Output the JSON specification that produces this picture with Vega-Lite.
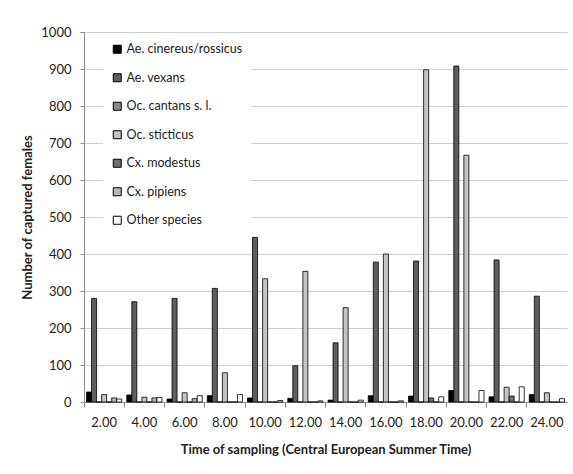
{
  "$schema": "https://vega.github.io/schema/vega-lite/v6.json",
  "width": 483,
  "height": 370,
  "autosize": {"type": "none"},
  "padding": {"left": 84, "top": 32, "right": 6, "bottom": 72},
  "background": "white",
  "config": {"font": "Lato", "view": {"stroke": null}},
  "data": {
    "values": [
      {"time": "2.00", "species": "Ae. cinereus/rossicus", "count": 27},
      {"time": "2.00", "species": "Ae. vexans", "count": 280},
      {"time": "2.00", "species": "Oc. cantans s. l.", "count": 0},
      {"time": "2.00", "species": "Oc. sticticus", "count": 20},
      {"time": "2.00", "species": "Cx. modestus", "count": 0},
      {"time": "2.00", "species": "Cx. pipiens", "count": 11},
      {"time": "2.00", "species": "Other species", "count": 8},
      {"time": "4.00", "species": "Ae. cinereus/rossicus", "count": 19},
      {"time": "4.00", "species": "Ae. vexans", "count": 271},
      {"time": "4.00", "species": "Oc. cantans s. l.", "count": 0},
      {"time": "4.00", "species": "Oc. sticticus", "count": 13},
      {"time": "4.00", "species": "Cx. modestus", "count": 0},
      {"time": "4.00", "species": "Cx. pipiens", "count": 11},
      {"time": "4.00", "species": "Other species", "count": 12},
      {"time": "6.00", "species": "Ae. cinereus/rossicus", "count": 8},
      {"time": "6.00", "species": "Ae. vexans", "count": 280},
      {"time": "6.00", "species": "Oc. cantans s. l.", "count": 0},
      {"time": "6.00", "species": "Oc. sticticus", "count": 25},
      {"time": "6.00", "species": "Cx. modestus", "count": 0},
      {"time": "6.00", "species": "Cx. pipiens", "count": 9},
      {"time": "6.00", "species": "Other species", "count": 17},
      {"time": "8.00", "species": "Ae. cinereus/rossicus", "count": 17},
      {"time": "8.00", "species": "Ae. vexans", "count": 307},
      {"time": "8.00", "species": "Oc. cantans s. l.", "count": 0},
      {"time": "8.00", "species": "Oc. sticticus", "count": 79},
      {"time": "8.00", "species": "Cx. modestus", "count": 0},
      {"time": "8.00", "species": "Cx. pipiens", "count": 0},
      {"time": "8.00", "species": "Other species", "count": 20},
      {"time": "10.00", "species": "Ae. cinereus/rossicus", "count": 11},
      {"time": "10.00", "species": "Ae. vexans", "count": 445},
      {"time": "10.00", "species": "Oc. cantans s. l.", "count": 0},
      {"time": "10.00", "species": "Oc. sticticus", "count": 333},
      {"time": "10.00", "species": "Cx. modestus", "count": 0},
      {"time": "10.00", "species": "Cx. pipiens", "count": 0},
      {"time": "10.00", "species": "Other species", "count": 4},
      {"time": "12.00", "species": "Ae. cinereus/rossicus", "count": 10},
      {"time": "12.00", "species": "Ae. vexans", "count": 98},
      {"time": "12.00", "species": "Oc. cantans s. l.", "count": 0},
      {"time": "12.00", "species": "Oc. sticticus", "count": 353},
      {"time": "12.00", "species": "Cx. modestus", "count": 0},
      {"time": "12.00", "species": "Cx. pipiens", "count": 0},
      {"time": "12.00", "species": "Other species", "count": 3},
      {"time": "14.00", "species": "Ae. cinereus/rossicus", "count": 5},
      {"time": "14.00", "species": "Ae. vexans", "count": 160},
      {"time": "14.00", "species": "Oc. cantans s. l.", "count": 0},
      {"time": "14.00", "species": "Oc. sticticus", "count": 255},
      {"time": "14.00", "species": "Cx. modestus", "count": 0},
      {"time": "14.00", "species": "Cx. pipiens", "count": 0},
      {"time": "14.00", "species": "Other species", "count": 5},
      {"time": "16.00", "species": "Ae. cinereus/rossicus", "count": 17},
      {"time": "16.00", "species": "Ae. vexans", "count": 378},
      {"time": "16.00", "species": "Oc. cantans s. l.", "count": 0},
      {"time": "16.00", "species": "Oc. sticticus", "count": 400},
      {"time": "16.00", "species": "Cx. modestus", "count": 0},
      {"time": "16.00", "species": "Cx. pipiens", "count": 0},
      {"time": "16.00", "species": "Other species", "count": 3},
      {"time": "18.00", "species": "Ae. cinereus/rossicus", "count": 16},
      {"time": "18.00", "species": "Ae. vexans", "count": 381},
      {"time": "18.00", "species": "Oc. cantans s. l.", "count": 0},
      {"time": "18.00", "species": "Oc. sticticus", "count": 898},
      {"time": "18.00", "species": "Cx. modestus", "count": 11},
      {"time": "18.00", "species": "Cx. pipiens", "count": 0},
      {"time": "18.00", "species": "Other species", "count": 14},
      {"time": "20.00", "species": "Ae. cinereus/rossicus", "count": 31},
      {"time": "20.00", "species": "Ae. vexans", "count": 908},
      {"time": "20.00", "species": "Oc. cantans s. l.", "count": 0},
      {"time": "20.00", "species": "Oc. sticticus", "count": 667},
      {"time": "20.00", "species": "Cx. modestus", "count": 0},
      {"time": "20.00", "species": "Cx. pipiens", "count": 0},
      {"time": "20.00", "species": "Other species", "count": 31},
      {"time": "22.00", "species": "Ae. cinereus/rossicus", "count": 14},
      {"time": "22.00", "species": "Ae. vexans", "count": 384},
      {"time": "22.00", "species": "Oc. cantans s. l.", "count": 0},
      {"time": "22.00", "species": "Oc. sticticus", "count": 40},
      {"time": "22.00", "species": "Cx. modestus", "count": 16},
      {"time": "22.00", "species": "Cx. pipiens", "count": 0},
      {"time": "22.00", "species": "Other species", "count": 41},
      {"time": "24.00", "species": "Ae. cinereus/rossicus", "count": 20},
      {"time": "24.00", "species": "Ae. vexans", "count": 286},
      {"time": "24.00", "species": "Oc. cantans s. l.", "count": 0},
      {"time": "24.00", "species": "Oc. sticticus", "count": 25},
      {"time": "24.00", "species": "Cx. modestus", "count": 0},
      {"time": "24.00", "species": "Cx. pipiens", "count": 0},
      {"time": "24.00", "species": "Other species", "count": 9}
    ]
  },
  "mark": {"type": "bar", "stroke": "black", "strokeWidth": 0.8},
  "encoding": {
    "x": {
      "field": "time",
      "type": "ordinal",
      "sort": ["2.00", "4.00", "6.00", "8.00", "10.00", "12.00", "14.00", "16.00", "18.00", "20.00", "22.00", "24.00"],
      "scale": {"paddingInner": 0, "paddingOuter": 0},
      "axis": {
        "title": "Time of sampling (Central European Summer Time)",
        "titleFontSize": 13,
        "titleFontWeight": "bold",
        "titleColor": "#222",
        "titlePadding": 14,
        "labelAngle": 0,
        "labelFontSize": 13,
        "labelColor": "#222",
        "labelPadding": 9,
        "bandPosition": 0,
        "tickSize": 5,
        "tickColor": "#8c8c8c",
        "domainColor": "#8c8c8c",
        "grid": false
      }
    },
    "xOffset": {
      "field": "species",
      "type": "nominal",
      "sort": ["Ae. cinereus/rossicus", "Ae. vexans", "Oc. cantans s. l.", "Oc. sticticus", "Cx. modestus", "Cx. pipiens", "Other species"],
      "scale": {"paddingInner": 0, "paddingOuter": 0.5}
    },
    "y": {
      "field": "count",
      "type": "quantitative",
      "scale": {"domain": [0, 1000], "nice": false},
      "axis": {
        "title": "Number of captured females",
        "titleFontSize": 13,
        "titleFontWeight": "bold",
        "titleColor": "#222",
        "titlePadding": 6,
        "format": "d",
        "values": [0, 100, 200, 300, 400, 500, 600, 700, 800, 900, 1000],
        "labelFontSize": 13,
        "labelColor": "#222",
        "labelPadding": 9,
        "tickSize": 4,
        "tickColor": "#8c8c8c",
        "domainColor": "#8c8c8c",
        "gridColor": "#d0d0d0",
        "grid": true
      }
    },
    "color": {
      "field": "species",
      "type": "nominal",
      "scale": {
        "domain": ["Ae. cinereus/rossicus", "Ae. vexans", "Oc. cantans s. l.", "Oc. sticticus", "Cx. modestus", "Cx. pipiens", "Other species"],
        "range": ["#000000", "#5e5e5e", "#8a8a8a", "#c4c4c4", "#6e6e6e", "#b8b8b8", "#ffffff"]
      },
      "legend": {
        "title": null,
        "orient": "none",
        "legendX": 19,
        "legendY": 3,
        "padding": 8,
        "fillColor": "white",
        "symbolType": "square",
        "symbolSize": 64,
        "symbolStrokeColor": "black",
        "symbolStrokeWidth": 1,
        "symbolOpacity": 1,
        "labelFontSize": 12.5,
        "labelColor": "#222",
        "labelLimit": 200,
        "labelOffset": 3,
        "rowPadding": 15.5
      }
    }
  }
}
